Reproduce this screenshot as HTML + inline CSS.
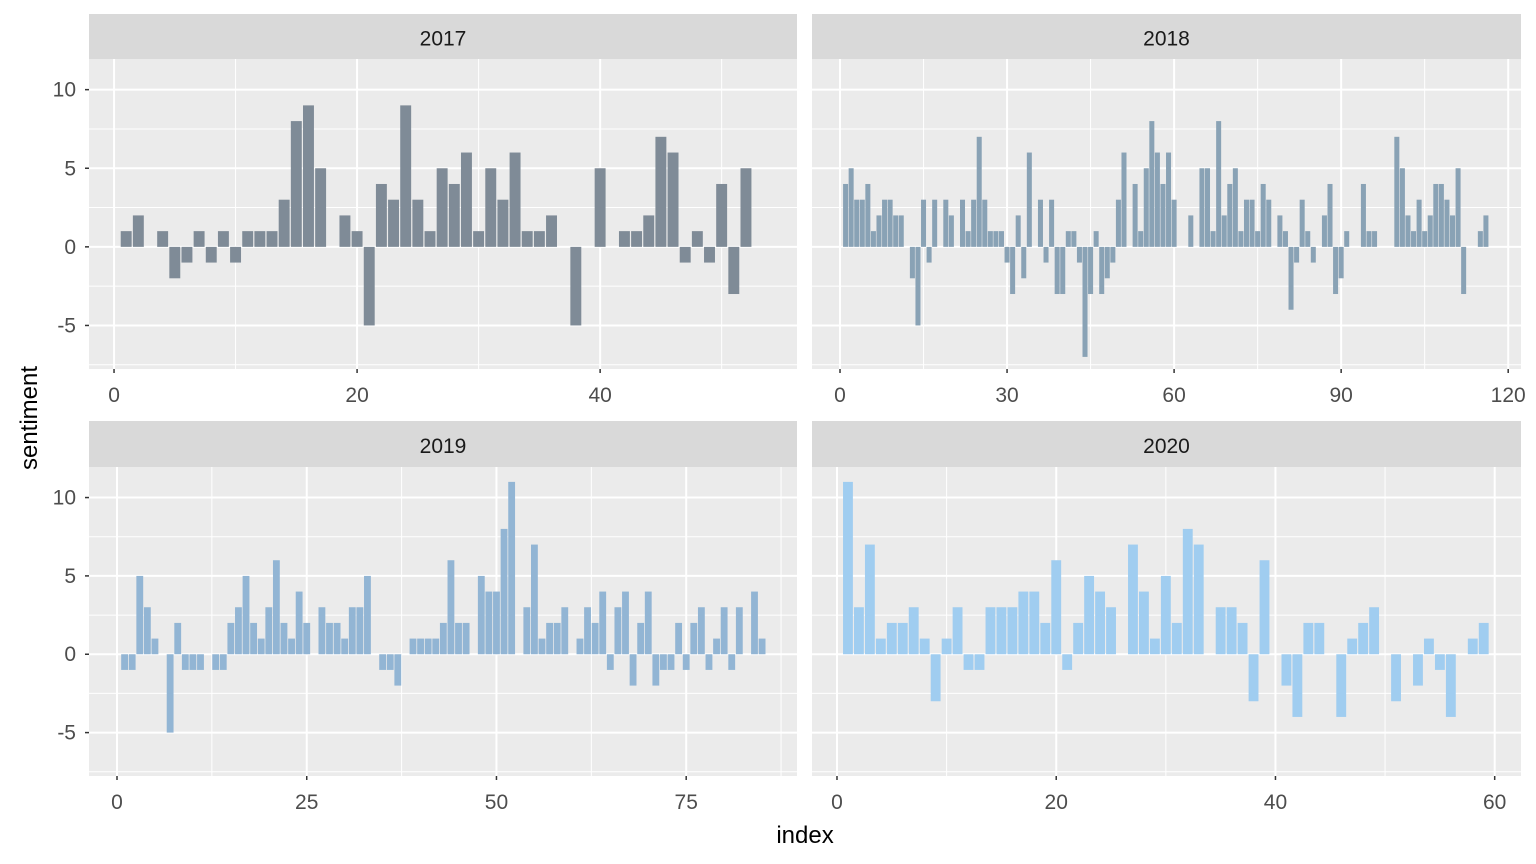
<!DOCTYPE html>
<html><head><meta charset="utf-8"><style>
html,body{margin:0;padding:0;background:#fff;}
svg{display:block;font-family:"Liberation Sans",Arial,sans-serif;}
</style></head><body>
<svg id="chart" width="1536" height="864" viewBox="0 0 1536 864" xmlns="http://www.w3.org/2000/svg">
<text x="805" y="843" font-size="24" text-anchor="middle" fill="#000">index</text>
<text x="0" y="0" font-size="24" text-anchor="middle" fill="#000" transform="translate(37,418) rotate(-90)">sentiment</text>
</svg>
<script>
const years = ["2017","2018","2019","2020"];
const values2017 = [1,2,0,1,-2,-1,1,-1,1,-1,1,1,1,3,8,9,5,0,2,1,-5,4,3,9,3,1,5,4,6,1,5,3,6,1,1,2,0,-5,0,5,0,1,1,2,7,6,-1,1,-1,4,-3,5];
const values2018 = [4,5,3,3,4,1,2,3,3,2,2,0,-2,-5,3,-1,3,0,3,2,0,3,1,3,7,3,1,1,1,-1,-3,2,-2,6,0,3,-1,3,-3,-3,1,1,-1,-7,-3,1,-3,-2,-1,3,6,0,4,1,5,8,6,4,6,3,0,0,2,0,5,5,1,8,2,4,5,1,3,3,1,4,3,0,2,1,-4,-1,3,1,-1,0,2,4,-3,-2,1,0,0,4,1,1,0,0,0,7,5,2,1,3,1,2,4,4,3,2,5,-3,0,0,1,2];
const values2019 = [-1,-1,5,3,1,0,-5,2,-1,-1,-1,0,-1,-1,2,3,5,2,1,3,6,2,1,4,2,0,3,2,2,1,3,3,5,0,-1,-1,-2,0,1,1,1,1,2,6,2,2,0,5,4,4,8,11,0,3,7,1,2,2,3,0,1,3,2,4,-1,3,4,-2,2,4,-2,-1,-1,2,-1,2,3,-1,1,3,-1,3,0,4,1];
const values2020 = [11,3,7,1,2,2,3,1,-3,1,3,-1,-1,3,3,3,4,4,2,6,-1,2,5,4,3,0,7,4,1,5,2,8,7,0,3,3,2,-3,6,0,-2,-4,2,2,0,-4,1,2,3,0,-3,0,-2,1,-1,-4,0,1,2];
const xTicks2017 = [0,20,40];
const xTicks2018 = [0,30,60,90,120];
const xTicks2019 = [0,25,50,75];
const xTicks2020 = [0,20,40,60];
const yTicks = [-5,0,5,10];

const NS = "http://www.w3.org/2000/svg";
const svg = document.getElementById("chart");
function mk(tag, attrs, parent){ const e=document.createElementNS(NS,tag); for(const k in attrs) e.setAttribute(k,attrs[k]); (parent||svg).appendChild(e); return e; }

const panels = [
 {year:years[0], vals:values2017, ticks:xTicks2017, px:[89,797], py:[59,369], sy:[14,59], xd:[-2.06,56.2], fill:"#7f8b97"},
 {year:years[1], vals:values2018, ticks:xTicks2018, px:[812,1521], py:[59,369], sy:[14,59], xd:[-5.03,122.3], fill:"#89a2b5"},
 {year:years[2], vals:values2019, ticks:xTicks2019, px:[89,797], py:[467,776], sy:[421,467], xd:[-3.69,89.6], fill:"#92b5d4"},
 {year:years[3], vals:values2020, ticks:xTicks2020, px:[812,1521], py:[467,776], sy:[421,467], xd:[-2.28,62.4], fill:"#a0cdf0"}
];
const yd = [-7.77, 11.95];

panels.forEach((p,pi)=>{
  const g = mk("g",{});
  
  
  const xs = v => p.px[0] + (v - p.xd[0])/(p.xd[1]-p.xd[0])*(p.px[1]-p.px[0]);
  const ys = v => p.py[1] - (v - yd[0])/(yd[1]-yd[0])*(p.py[1]-p.py[0]);
  const bg = mk("rect",{x:p.px[0],y:p.py[0],width:p.px[1]-p.px[0],height:p.py[1]-p.py[0],fill:"#ebebeb"},g);
  
  
  const st = p.ticks[1]-p.ticks[0];
  for(let v=p.ticks[0]-st/2; v<=p.xd[1]; v+=st){
    if(v<p.xd[0]) continue;
    const l=mk("line",{x1:xs(v),x2:xs(v),y1:p.py[0],y2:p.py[1],stroke:"#fff","stroke-width":1},g);
     
  }
  for(let v=-7.5; v<=yd[1]; v+=5){
    const l=mk("line",{x1:p.px[0],x2:p.px[1],y1:ys(v),y2:ys(v),stroke:"#fff","stroke-width":1},g);
     
  }
  p.ticks.forEach(t=>{
    const l=mk("line",{x1:xs(t),x2:xs(t),y1:p.py[0],y2:p.py[1],stroke:"#fff","stroke-width":2},g);
     
    const tk=mk("line",{x1:xs(t),x2:xs(t),y1:p.py[1],y2:p.py[1]+4,stroke:"#333","stroke-width":1.5},g);
     
    const tx=mk("text",{x:xs(t),y:p.py[1]+33,"font-size":21,"text-anchor":"middle",fill:"#4d4d4d"},g);
    tx.textContent=t;
     
  });
  yTicks.forEach(t=>{
    const l=mk("line",{x1:p.px[0],x2:p.px[1],y1:ys(t),y2:ys(t),stroke:"#fff","stroke-width":2},g);
     
    if(pi%2===0){
      const tk=mk("line",{x1:p.px[0]-4,x2:p.px[0],y1:ys(t),y2:ys(t),stroke:"#333","stroke-width":1.5},g);
       
      const tx=mk("text",{x:p.px[0]-13,y:ys(t)+7,"font-size":21,"text-anchor":"end",fill:"#4d4d4d"},g);
      tx.textContent=t;
       
    }
  });
  p.vals.forEach((v,i)=>{
    if(v===0) return;
    const idx=i+1;
    const x0=xs(idx-0.45), x1=xs(idx+0.45);
    const y0=ys(Math.max(v,0)), y1=ys(Math.min(v,0));
    const r=mk("rect",{x:x0,y:y0,width:x1-x0,height:y1-y0,fill:p.fill},g);
    
    
  });
  const s=mk("rect",{x:p.px[0],y:p.sy[0],width:p.px[1]-p.px[0],height:p.sy[1]-p.sy[0],fill:"#d9d9d9"},g);
   
  const st2=mk("text",{x:(p.px[0]+p.px[1])/2,y:(p.sy[0]+p.sy[1])/2+9,"font-size":21,"text-anchor":"middle",fill:"#1a1a1a"},g);
  st2.textContent=p.year;
   
});
</script>
</body></html>
